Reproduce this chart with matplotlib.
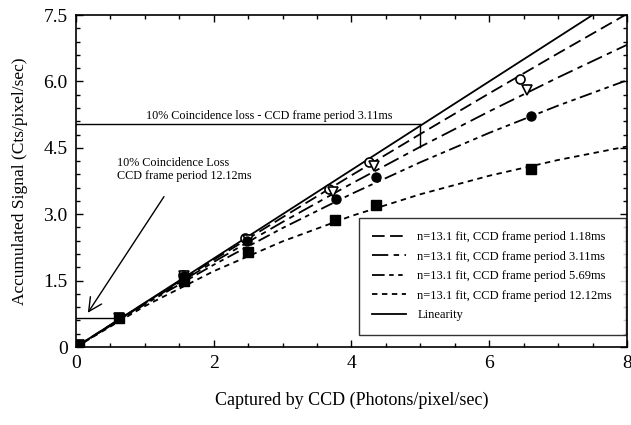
import numpy as np
import matplotlib
matplotlib.use("Agg")
from matplotlib import pyplot as plt

plt.rcParams['font.family'] = ['Liberation Serif', 'DejaVu Serif']

# fit curves at x = 0..8
fit_x = [0, 1, 2, 3, 4, 5, 6, 7, 8]
fit_118 = [0, 0.992, 1.969, 2.931, 3.879, 4.812, 5.730, 6.635, 7.525]
fit_311 = [0, 0.980, 1.921, 2.824, 3.691, 4.524, 5.323, 6.090, 6.827]
fit_569 = [0, 0.964, 1.858, 2.688, 3.459, 4.174, 4.838, 5.454, 6.026]
fit_1212 = [0, 0.924, 1.713, 2.387, 2.961, 3.451, 3.869, 4.225, 4.530]
lin_x = [0, 8]
lin_y = [0, 8]

# measured points
pts_118_x = [0.05, 0.62, 1.55, 2.45, 3.67, 4.25, 6.44]
pts_118_y = [0.05, 0.65, 1.62, 2.46, 3.57, 4.18, 6.05]
pts_311_x = [0.05, 0.62, 1.57, 2.50, 3.73, 4.33, 6.55]
pts_311_y = [0.05, 0.65, 1.60, 2.42, 3.50, 4.10, 5.80]
pts_569_x = [0.05, 0.62, 1.57, 2.49, 3.77, 4.36, 6.61]
pts_569_y = [0.05, 0.65, 1.60, 2.40, 3.34, 3.83, 5.22]
pts_1212_x = [0.04, 0.62, 1.57, 2.50, 3.76, 4.35, 6.60]
pts_1212_y = [0.05, 0.65, 1.48, 2.15, 2.87, 3.20, 4.02]

labels = ["n=13.1 fit, CCD frame period 1.18ms",
          "n=13.1 fit, CCD frame period 3.11ms",
          "n=13.1 fit, CCD frame period 5.69ms",
          "n=13.1 fit, CCD frame period 12.12ms",
          "Linearity"]

fig = plt.figure(figsize=(6.31, 4.25), dpi=100)
ax = fig.add_axes([0.1204, 0.1835, 0.8733, 0.7812])

lw = 1.3
ax.plot(fit_x, fit_118, color='k', lw=lw, ls=(0, (7, 3)), label=labels[0])
ax.plot(fit_x, fit_311, color='k', lw=lw, ls=(0, (9, 3, 3, 3)), label=labels[1])
ax.plot(fit_x, fit_569, color='k', lw=lw, ls=(0, (7, 2.5, 2.5, 2.5, 2.5, 2.5)), label=labels[2])
ax.plot(fit_x, fit_1212, color='k', lw=lw, ls=(0, (3, 2.5)), label=labels[3])
ax.plot(lin_x, lin_y, color='k', lw=lw, ls='-', label=labels[4])

ax.plot(pts_118_x, pts_118_y, 'o', mfc='white', mec='k', mew=1.2, ms=6.5)
ax.plot(pts_311_x, pts_311_y, 'v', mfc='white', mec='k', mew=1.2, ms=6.5)
ax.plot(pts_569_x, pts_569_y, 'o', color='k', ms=6.5)
ax.plot(pts_1212_x, pts_1212_y, 's', color='k', ms=6.5)

# coincidence loss markers
ax.plot([0, 5], [5.03, 5.03], color='k', lw=1)
ax.plot([5, 5], [5.03, 4.52], color='k', lw=1)
ax.text(1.02, 5.08, "10% Coincidence loss - CCD frame period 3.11ms",
        fontsize=8.7, ha='left', va='bottom')
ax.plot([0, 0.62], [0.65, 0.65], color='k', lw=1)
ax.text(0.6, 4.3, "10% Coincidence Loss\nCCD frame period 12.12ms",
        fontsize=8.7, ha='left', va='top', linespacing=1.15)
ax.annotate("", xy=(0.15, 0.72), xytext=(1.3, 3.45),
            arrowprops=dict(arrowstyle='->', color='k', lw=1,
                            mutation_scale=24))

ax.set_xlim(0, 8)
ax.set_ylim(0, 7.5)
ax.set_xticks([0, 2, 4, 6, 8])
ax.set_yticks([0, 1.5, 3.0, 4.5, 6.0, 7.5])
ax.set_yticklabels(["0", "1.5", "3.0", "4.5", "6.0", "7.5"])
ax.set_xticks(np.arange(0, 8.01, 0.5), minor=True)
ax.set_yticks(np.arange(0, 7.51, 0.3), minor=True)
ax.tick_params(which='both', direction='in', top=True, right=True,
               labelsize=14, width=1)
ax.tick_params(which='major', length=5, pad=6)
ax.tick_params(which='minor', length=3)
for s in ax.spines.values():
    s.set_linewidth(1.2)

ax.set_xlabel("Captured by CCD (Photons/pixel/sec)", fontsize=13, labelpad=14)
ax.set_ylabel("Accumulated Signal (Cts/pixel/sec)", fontsize=12.5, labelpad=11)

leg = ax.legend(loc='lower right', bbox_to_anchor=(0.998, 0.036),
                borderaxespad=0, fontsize=9, handlelength=2.7,
                handletextpad=0.9, frameon=True, fancybox=False,
                edgecolor='k', borderpad=1.1, labelspacing=0.6)
leg.get_frame().set_linewidth(1)

fig.savefig("out.png", dpi=100)
